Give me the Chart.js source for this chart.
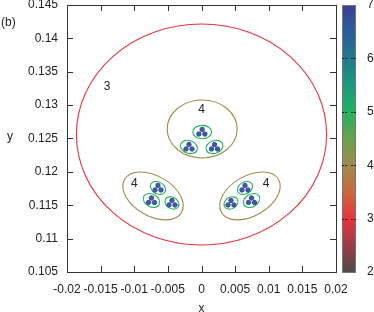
<!DOCTYPE html>
<html>
<head>
<meta charset="utf-8">
<script src="https://cdn.jsdelivr.net/npm/chart.js@4.4.1/dist/chart.umd.min.js"></script>
<style>
  html, body { margin: 0; padding: 0; background: #fff; }
  canvas { display: block; }
</style>
</head>
<body>
<canvas id="chart" width="374" height="312"></canvas>
<script>
// axis ticks
const xTicks = [-0.02, -0.015, -0.01, -0.005, 0, 0.005, 0.01, 0.015, 0.02];
const xTickLabels = ['-0.02', '-0.015', '-0.01', '-0.005', '0', '0.005', '0.01', '0.015', '0.02'];
const yTicks = [0.105, 0.11, 0.115, 0.12, 0.125, 0.13, 0.135, 0.14, 0.145];
const yTickLabels = ['0.105', '0.11', '0.115', '0.12', '0.125', '0.13', '0.135', '0.14', '0.145'];
const cbTicks = [2, 3, 4, 5, 6, 7];

// colour box palette (level -> colour)
const paletteValues = [2, 2.5, 3, 3.5, 4, 4.5, 5, 5.5, 6, 6.5, 7];
const paletteColors = ['#4b4b4b', '#9b3d45', '#e8343f', '#c8683c', '#a08a4c', '#6aa050',
                       '#21b35f', '#1c9a7c', '#1f7a8c', '#2a5f9c', '#3d3c96'];

// contour loops: centre, half axes (data units), tilt in degrees, level
const loopX     = [0,       0.0001,  -0.00721, 0.00721,
                   0.0001,  -0.00186, 0.00193,
                   -0.00647, -0.00744, -0.00439,
                   0.00647, 0.00439, 0.00744];
const loopY     = [0.1256,  0.12642, 0.11639, 0.11639,
                   0.12597, 0.12373, 0.12373,
                   0.11759, 0.11571, 0.11534,
                   0.11759, 0.11534, 0.11571];
const loopRx    = [0.0186,  0.0052,  0.0049,  0.0049,
                   0.0014,  0.0013,  0.0013,
                   0.0012,  0.0013,  0.0011,
                   0.0012,  0.0011,  0.0013];
const loopRy    = [0.01655, 0.00434, 0.0030,  0.0030,
                   0.00100, 0.00095, 0.00095,
                   0.00088, 0.00095, 0.00085,
                   0.00088, 0.00085, 0.00095];
const loopTilt  = [0, 0, 30, -30,
                   0, 20, -20,
                   30, 30, 30,
                   -30, -30, -30];
const loopLevel = [3, 4, 4, 4,
                   5, 5, 5,
                   5, 5, 5,
                   5, 5, 5];

// level labels
const labelText = ['3', '4', '4', '4'];
const labelX = [-0.01405, 0.0, -0.0100, 0.0096];
const labelY = [0.13272, 0.12927, 0.1182, 0.1182];

// particles
const dotX = [0.0001, -0.0004, 0.0005,
              -0.00186, -0.0023, -0.00141,
              0.00193, 0.00149, 0.00238,
              -0.00647, -0.00691, -0.00602,
              -0.00744, -0.00788, -0.00699,
              -0.00439, -0.00483, -0.00394,
              0.00647, 0.00602, 0.00691,
              0.00439, 0.00394, 0.00483,
              0.00744, 0.00699, 0.00788];
const dotY = [0.12635, 0.12567, 0.12567,
              0.1241, 0.12343, 0.12343,
              0.1241, 0.12343, 0.12343,
              0.11796, 0.11729, 0.11729,
              0.11609, 0.11541, 0.11541,
              0.11571, 0.11504, 0.11504,
              0.11796, 0.11729, 0.11729,
              0.11571, 0.11504, 0.11504,
              0.11609, 0.11541, 0.11541];
const dotLevel = 6.8;

const FONT = 'Liberation Sans, Arial, sans-serif';
const TEXT = '#222';

/**
 * colour of a level from the palette
 */
function levelColor(v) {
    const hex = h => [1, 3, 5].map(k => parseInt(h.substr(k, 2), 16));
    let i = 0;
    while (i < paletteValues.length - 2 && v > paletteValues[i + 1]) i++;
    const t = Math.min(Math.max((v - paletteValues[i]) / (paletteValues[i + 1] - paletteValues[i]), 0), 1);
    const a = hex(paletteColors[i]), b = hex(paletteColors[i + 1]);
    const c = a.map((q, k) => Math.round(q + (b[k] - q) * t));
    return `rgb(${c[0]},${c[1]},${c[2]})`;
}

// ellipses + level labels, under the points
const loopsPlugin = {
    id: 'loops',
    beforeDatasetsDraw(chart) {
        const { ctx, scales: { x, y } } = chart;
        ctx.save();
        loopX.forEach((cx, i) => {
            const px = x.getPixelForValue(cx);
            const py = y.getPixelForValue(loopY[i]);
            const rx = Math.abs(x.getPixelForValue(cx + loopRx[i]) - px);
            const ry = Math.abs(y.getPixelForValue(loopY[i] + loopRy[i]) - py);
            ctx.beginPath();
            ctx.ellipse(px, py, rx, ry, loopTilt[i] * Math.PI / 180, 0, 2 * Math.PI);
            ctx.strokeStyle = levelColor(loopLevel[i]);
            ctx.lineWidth = 1.1;
            ctx.stroke();
        });
        ctx.fillStyle = TEXT;
        ctx.font = `12px ${FONT}`;
        ctx.textAlign = 'center';
        ctx.textBaseline = 'middle';
        labelText.forEach((t, i) => {
            ctx.fillText(t, x.getPixelForValue(labelX[i]), y.getPixelForValue(labelY[i]));
        });
        ctx.restore();
    }
};

// gnuplot style frame: border, inward mirrored ticks, colour box, extra texts
const framePlugin = {
    id: 'frame',
    afterDraw(chart) {
        const { ctx, chartArea: a, scales: { x, y, cb } } = chart;
        ctx.save();
        ctx.strokeStyle = '#333';
        ctx.lineWidth = 1;
        ctx.strokeRect(a.left + 0.5, a.top + 0.5, a.right - a.left, a.bottom - a.top);
        ctx.beginPath();
        xTicks.forEach(v => {
            const px = Math.round(x.getPixelForValue(v)) + 0.5;
            ctx.moveTo(px, a.bottom); ctx.lineTo(px, a.bottom - 6);
            ctx.moveTo(px, a.top); ctx.lineTo(px, a.top + 6);
        });
        yTicks.forEach(v => {
            const py = Math.round(y.getPixelForValue(v)) + 0.5;
            ctx.moveTo(a.left, py); ctx.lineTo(a.left + 6, py);
            ctx.moveTo(a.right, py); ctx.lineTo(a.right - 6, py);
        });
        ctx.stroke();

        // colour box
        const top = cb.getPixelForValue(cb.max), bottom = cb.getPixelForValue(cb.min);
        const left = a.right + 6, w = 14;
        const grad = ctx.createLinearGradient(0, bottom, 0, top);
        paletteValues.forEach((v, i) => grad.addColorStop((v - cb.min) / (cb.max - cb.min), paletteColors[i]));
        ctx.fillStyle = grad;
        ctx.fillRect(left, top, w, bottom - top);
        ctx.strokeStyle = '#777';
        ctx.strokeRect(left + 0.5, top + 0.5, w - 1, bottom - top);
        ctx.strokeStyle = '#222';
        ctx.setLineDash([2, 1]);
        ctx.beginPath();
        cbTicks.slice(1, -1).forEach(v => {
            const py = Math.round(cb.getPixelForValue(v)) + 0.5;
            ctx.moveTo(left, py); ctx.lineTo(left + 5, py);
            ctx.moveTo(left + w - 5, py); ctx.lineTo(left + w, py);
        });
        ctx.stroke();
        ctx.setLineDash([]);

        ctx.fillStyle = TEXT;
        ctx.font = `12px ${FONT}`;
        ctx.textBaseline = 'middle';
        ctx.textAlign = 'left';
        ctx.fillText('(b)', 1, 23);
        ctx.textAlign = 'center';
        ctx.fillText('y', 10, 137);
        ctx.restore();
    }
};

const tickFont = { family: FONT, size: 12 };
const noGrid = { display: false, drawTicks: false };

new Chart(document.getElementById('chart'), {
    type: 'scatter',
    data: {
        datasets: [{
            data: dotX.map((v, i) => ({ x: v, y: dotY[i] })),
            pointRadius: 2.2,
            pointBackgroundColor: '#3e5cae',
            pointBorderColor: levelColor(dotLevel),
            pointBorderWidth: 1
        }]
    },
    options: {
        responsive: false,
        animation: false,
        layout: { padding: { top: 5, left: 0, right: 0, bottom: 0 } },
        plugins: { legend: { display: false }, tooltip: { enabled: false } },
        scales: {
            x: {
                type: 'linear',
                min: -0.02,
                max: 0.02,
                grid: noGrid,
                border: { display: false },
                afterBuildTicks: s => { s.ticks = xTicks.map(v => ({ value: v })); },
                afterFit: s => { s.height = 40; s.paddingLeft = 0; s.paddingRight = 0; },
                ticks: {
                    font: tickFont,
                    color: TEXT,
                    padding: 10,
                    maxRotation: 0,
                    autoSkip: false,
                    callback: (v, i) => xTickLabels[i]
                },
                title: {
                    display: true,
                    text: 'x',
                    color: TEXT,
                    font: { family: FONT, size: 12, lineHeight: 1 },
                    padding: { top: 0, bottom: -3 }
                }
            },
            y: {
                type: 'linear',
                min: 0.105,
                max: 0.145,
                grid: noGrid,
                border: { display: false },
                afterBuildTicks: s => { s.ticks = yTicks.map(v => ({ value: v })); },
                afterFit: s => { s.width = 67; s.paddingTop = 0; s.paddingBottom = 0; },
                ticks: {
                    font: tickFont,
                    color: TEXT,
                    padding: 9,
                    autoSkip: false,
                    callback: (v, i) => yTickLabels[i]
                }
            },
            cb: {
                type: 'linear',
                position: 'right',
                min: 2,
                max: 7,
                grid: noGrid,
                border: { display: false },
                afterBuildTicks: s => { s.ticks = cbTicks.map(v => ({ value: v })); },
                afterFit: s => { s.width = 38; s.paddingTop = 0; s.paddingBottom = 0; },
                ticks: {
                    font: tickFont,
                    color: TEXT,
                    padding: 31,
                    autoSkip: false,
                    callback: v => String(v)
                }
            }
        }
    },
    plugins: [loopsPlugin, framePlugin]
});
</script>
</body>
</html>
